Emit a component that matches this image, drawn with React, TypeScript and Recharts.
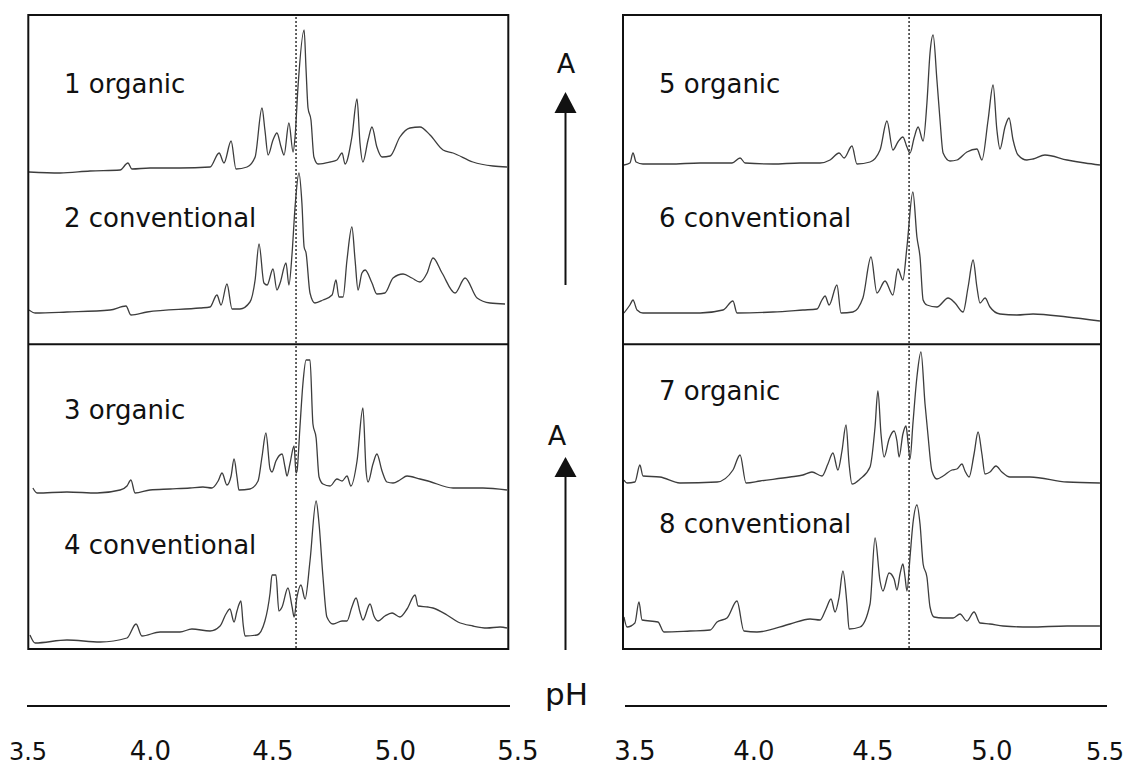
import React from "react";
import { LineChart, Line, XAxis, YAxis, ReferenceLine } from "recharts";

type Pt = [number, number]; // [pH, absorbance in arbitrary units]

// ---- traces ----
const organic1: Pt[] = [
  [3.504, 1.72], [3.631, 1.71], [3.753, 1.73], [3.876, 1.74], [3.908, 1.81], [3.924, 1.75], [3.998, 1.76],
  [4.12, 1.76], [4.243, 1.77], [4.28, 1.91], [4.3, 1.81], [4.329, 2.03], [4.349, 1.75], [4.394, 1.77],
  [4.427, 1.87], [4.455, 2.36], [4.467, 2.14], [4.48, 1.89], [4.5, 2.04], [4.516, 2.11], [4.533, 1.97],
  [4.545, 1.89], [4.565, 2.21], [4.582, 1.92], [4.59, 2.07], [4.602, 2.57], [4.627, 3.14], [4.635, 2.74],
  [4.643, 2.36], [4.655, 2.24], [4.667, 1.87], [4.684, 1.8], [4.733, 1.82], [4.761, 1.84], [4.782, 1.91],
  [4.794, 1.8], [4.822, 2.07], [4.843, 2.45], [4.855, 2.01], [4.867, 1.82], [4.888, 2.04], [4.904, 2.17],
  [4.924, 1.97], [4.945, 1.87], [4.978, 1.88], [5.018, 2.07], [5.059, 2.16], [5.1, 2.17], [5.141, 2.09],
  [5.194, 1.94], [5.235, 1.91], [5.316, 1.82], [5.398, 1.78], [5.455, 1.77],
];

const conventional2: Pt[] = [
  [3.504, 0.34], [3.529, 0.31], [3.659, 0.32], [3.835, 0.34], [3.9, 0.38], [3.92, 0.29], [3.986, 0.32],
  [4.202, 0.36], [4.243, 0.37], [4.271, 0.49], [4.288, 0.39], [4.312, 0.6], [4.333, 0.35], [4.365, 0.35],
  [4.406, 0.42], [4.427, 0.64], [4.443, 1.0], [4.463, 0.61], [4.476, 0.59], [4.5, 0.75], [4.516, 0.54],
  [4.529, 0.61], [4.553, 0.81], [4.565, 0.59], [4.578, 0.91], [4.59, 1.37], [4.606, 1.71], [4.618, 1.41],
  [4.627, 0.97], [4.635, 0.91], [4.651, 0.51], [4.671, 0.41], [4.704, 0.44], [4.741, 0.49], [4.757, 0.64],
  [4.769, 0.47], [4.786, 0.47], [4.802, 0.84], [4.822, 1.17], [4.835, 0.84], [4.847, 0.54], [4.863, 0.71],
  [4.876, 0.74], [4.904, 0.61], [4.924, 0.5], [4.957, 0.51], [4.99, 0.66], [5.031, 0.7], [5.067, 0.66],
  [5.1, 0.62], [5.129, 0.71], [5.153, 0.86], [5.19, 0.71], [5.243, 0.51], [5.284, 0.66], [5.333, 0.46],
  [5.386, 0.41], [5.447, 0.4],
];

const organic3: Pt[] = [
  [3.52, 1.6], [3.537, 1.55], [3.659, 1.56], [3.782, 1.55], [3.876, 1.58], [3.904, 1.62], [3.92, 1.68],
  [3.937, 1.55], [3.998, 1.58], [4.08, 1.59], [4.161, 1.6], [4.214, 1.61], [4.251, 1.6], [4.276, 1.67],
  [4.292, 1.75], [4.312, 1.63], [4.329, 1.72], [4.341, 1.89], [4.353, 1.71], [4.361, 1.58], [4.406, 1.59],
  [4.439, 1.67], [4.455, 1.91], [4.471, 2.15], [4.488, 1.79], [4.496, 1.76], [4.512, 1.87], [4.537, 1.94],
  [4.549, 1.81], [4.557, 1.72], [4.569, 1.84], [4.586, 2.02], [4.594, 1.75], [4.598, 1.77], [4.61, 2.21],
  [4.622, 2.64], [4.635, 2.88], [4.651, 2.88], [4.663, 2.24], [4.676, 2.1], [4.688, 1.71], [4.704, 1.64],
  [4.733, 1.62], [4.761, 1.69], [4.782, 1.67], [4.802, 1.72], [4.818, 1.62], [4.843, 1.87], [4.867, 2.4],
  [4.88, 1.77], [4.888, 1.66], [4.908, 1.84], [4.924, 1.94], [4.945, 1.77], [4.965, 1.66], [4.99, 1.65],
  [5.018, 1.68], [5.047, 1.72], [5.1, 1.69], [5.133, 1.67], [5.235, 1.6], [5.357, 1.6], [5.455, 1.58],
];

const conventional4: Pt[] = [
  [3.508, 0.13], [3.529, 0.05], [3.659, 0.08], [3.794, 0.06], [3.904, 0.1], [3.941, 0.24], [3.965, 0.12],
  [4.039, 0.16], [4.12, 0.16], [4.169, 0.19], [4.243, 0.17], [4.284, 0.22], [4.308, 0.34], [4.324, 0.39],
  [4.341, 0.26], [4.353, 0.37], [4.369, 0.47], [4.378, 0.24], [4.386, 0.12], [4.435, 0.13], [4.467, 0.27],
  [4.488, 0.55], [4.496, 0.73], [4.512, 0.73], [4.524, 0.37], [4.537, 0.41], [4.561, 0.6], [4.578, 0.41],
  [4.586, 0.31], [4.598, 0.51], [4.614, 0.63], [4.631, 0.49], [4.651, 0.87], [4.676, 1.47], [4.688, 1.24],
  [4.704, 0.71], [4.72, 0.31], [4.745, 0.24], [4.782, 0.27], [4.802, 0.27], [4.822, 0.41], [4.839, 0.5],
  [4.855, 0.36], [4.867, 0.28], [4.896, 0.44], [4.912, 0.32], [4.929, 0.27], [4.957, 0.32], [4.986, 0.35],
  [5.018, 0.31], [5.047, 0.39], [5.08, 0.53], [5.092, 0.42], [5.133, 0.41], [5.153, 0.4], [5.21, 0.33],
  [5.255, 0.26], [5.316, 0.22], [5.373, 0.2], [5.427, 0.21], [5.455, 0.2],
];

const organic5: Pt[] = [
  [3.454, 1.79], [3.479, 1.81], [3.492, 1.91], [3.505, 1.82], [3.534, 1.8], [3.647, 1.8], [3.774, 1.81],
  [3.908, 1.81], [3.942, 1.86], [3.963, 1.81], [4.08, 1.8], [4.194, 1.81], [4.278, 1.81], [4.32, 1.84],
  [4.358, 1.91], [4.379, 1.86], [4.412, 1.98], [4.433, 1.8], [4.488, 1.82], [4.53, 1.94], [4.559, 2.23],
  [4.584, 1.94], [4.605, 2.02], [4.626, 2.07], [4.643, 1.97], [4.656, 1.91], [4.673, 2.06], [4.69, 2.17],
  [4.711, 2.03], [4.727, 2.41], [4.74, 2.91], [4.753, 3.09], [4.769, 2.64], [4.782, 2.24], [4.795, 1.91],
  [4.824, 1.83], [4.853, 1.84], [4.895, 1.92], [4.937, 1.95], [4.958, 1.84], [4.984, 2.24], [5.005, 2.59],
  [5.021, 2.14], [5.034, 1.95], [5.055, 2.17], [5.072, 2.26], [5.089, 2.04], [5.11, 1.89], [5.147, 1.84],
  [5.173, 1.85], [5.223, 1.89], [5.316, 1.84], [5.391, 1.81], [5.454, 1.79],
];

const conventional6: Pt[] = [
  [3.454, 0.31], [3.479, 0.39], [3.492, 0.44], [3.509, 0.34], [3.534, 0.31], [3.647, 0.31], [3.774, 0.31],
  [3.87, 0.34], [3.912, 0.43], [3.929, 0.31], [4.08, 0.32], [4.206, 0.34], [4.265, 0.35], [4.286, 0.44],
  [4.299, 0.48], [4.316, 0.39], [4.349, 0.59], [4.366, 0.31], [4.416, 0.32], [4.458, 0.46], [4.492, 0.87],
  [4.517, 0.51], [4.551, 0.63], [4.584, 0.49], [4.605, 0.75], [4.626, 0.64], [4.643, 0.97], [4.668, 1.52],
  [4.685, 1.07], [4.698, 0.87], [4.711, 0.44], [4.727, 0.39], [4.769, 0.37], [4.816, 0.46], [4.845, 0.41],
  [4.879, 0.32], [4.9, 0.57], [4.921, 0.84], [4.937, 0.57], [4.95, 0.41], [4.971, 0.46], [4.992, 0.37],
  [5.034, 0.3], [5.105, 0.29], [5.173, 0.3], [5.316, 0.27], [5.454, 0.23],
];

const organic7: Pt[] = [
  [3.454, 1.68], [3.467, 1.65], [3.5, 1.66], [3.521, 1.83], [3.534, 1.72], [3.605, 1.71], [3.689, 1.65],
  [3.845, 1.66], [3.912, 1.78], [3.942, 1.93], [3.967, 1.65], [4.026, 1.67], [4.152, 1.71], [4.206, 1.73],
  [4.244, 1.76], [4.286, 1.72], [4.311, 1.84], [4.332, 1.95], [4.353, 1.78], [4.37, 1.97], [4.387, 2.23],
  [4.4, 1.84], [4.412, 1.64], [4.446, 1.69], [4.488, 1.81], [4.509, 2.21], [4.521, 2.57], [4.534, 2.14],
  [4.547, 1.91], [4.568, 2.09], [4.589, 2.17], [4.601, 2.07], [4.61, 1.91], [4.626, 2.14], [4.639, 2.22],
  [4.647, 2.07], [4.656, 1.89], [4.668, 2.24], [4.685, 2.71], [4.702, 2.96], [4.719, 2.44], [4.731, 2.14],
  [4.748, 1.77], [4.769, 1.69], [4.795, 1.72], [4.832, 1.78], [4.853, 1.79], [4.874, 1.84], [4.887, 1.77],
  [4.904, 1.71], [4.925, 1.94], [4.942, 2.16], [4.958, 1.94], [4.971, 1.74], [4.992, 1.76], [5.017, 1.82],
  [5.042, 1.76], [5.076, 1.71], [5.16, 1.71], [5.316, 1.66], [5.454, 1.65],
];

const conventional8: Pt[] = [
  [3.454, 0.31], [3.467, 0.21], [3.5, 0.25], [3.517, 0.46], [3.53, 0.28], [3.597, 0.26], [3.622, 0.16],
  [3.732, 0.17], [3.816, 0.18], [3.845, 0.26], [3.887, 0.3], [3.929, 0.47], [3.958, 0.17], [4.013, 0.16],
  [4.152, 0.24], [4.236, 0.29], [4.278, 0.28], [4.303, 0.39], [4.324, 0.49], [4.341, 0.36], [4.358, 0.51],
  [4.374, 0.77], [4.391, 0.44], [4.4, 0.19], [4.446, 0.21], [4.488, 0.44], [4.509, 1.1], [4.53, 0.67],
  [4.542, 0.57], [4.568, 0.75], [4.589, 0.69], [4.601, 0.58], [4.614, 0.74], [4.626, 0.84], [4.635, 0.71],
  [4.643, 0.57], [4.656, 0.91], [4.668, 1.24], [4.685, 1.43], [4.698, 1.24], [4.711, 0.84], [4.727, 0.71],
  [4.74, 0.41], [4.757, 0.31], [4.795, 0.3], [4.837, 0.3], [4.866, 0.34], [4.895, 0.27], [4.925, 0.36],
  [4.95, 0.25], [4.992, 0.24], [5.047, 0.22], [5.16, 0.21], [5.316, 0.22], [5.454, 0.22],
];

const phTicks = [3.5, 4.0, 4.5, 5.0, 5.5];
const leftMarkerPh = 4.594;
const rightMarkerPh = 4.652;
const sampleNames = [
  "1 organic", "2 conventional", "3 organic", "4 conventional",
  "5 organic", "6 conventional", "7 organic", "8 conventional",
];

// ---- layout ----
const FONT = '"DejaVu Sans", Verdana, sans-serif';
const INK = "#111";
const TRACE = "#3d3d3d";
const PX_PER_A = 100;

type Side = {
  x0: number; ph0: number; k: number; // pH ph0 sits at pixel x0, k px per pH unit
  inner: [number, number]; box: [number, number]; axis: [number, number]; row: [number, number];
  labelX: number;
};

const LEFT: Side = { x0: 28, ph0: 3.5, k: 245, inner: [29, 508], box: [28.3, 508.3], axis: [27, 510], row: [0, 560], labelX: 64 };
const RIGHT: Side = { x0: 623, ph0: 3.45, k: 238, inner: [624, 1100], box: [623, 1101], axis: [625, 1107], row: [590, 1125], labelX: 659 };

const BOX_TOP = 15;
const BOX_BOTTOM = 649;
const DIVIDER = 344.3;
const TOP_HALF = { top: 16, height: 327, base: 344 };
const BOTTOM_HALF = { top: 345, height: 303, base: 648 };
const ROW_TOP = 660;
const ROW_H = 105;
const AXIS_Y = 706;

const phAt = (s: Side, px: number) => s.ph0 + (px - s.x0) / s.k;
const rows = (pts: Pt[]) => pts.map(([ph, a]) => ({ ph, a }));

function Half({ side, half, traces, marker }: { side: Side; half: typeof TOP_HALF; traces: Pt[][]; marker: number }) {
  const w = side.inner[1] - side.inner[0];
  const xDomain = [phAt(side, side.inner[0]), phAt(side, side.inner[1])];
  const yDomain = [(half.base - half.top - half.height) / PX_PER_A, (half.base - half.top) / PX_PER_A];
  return (
    <div style={{ position: "absolute", left: side.inner[0], top: half.top, width: w, height: half.height }}>
      <LineChart width={w} height={half.height} margin={{ top: 0, right: 0, bottom: 0, left: 0 }}>
        <XAxis type="number" dataKey="ph" domain={xDomain} allowDataOverflow hide />
        <YAxis type="number" domain={yDomain} allowDataOverflow hide />
        <ReferenceLine x={marker} stroke={INK} strokeWidth={1.3} strokeDasharray="2 2" />
        {traces.map((t, i) => (
          <Line
            key={i}
            data={rows(t)}
            dataKey="a"
            type="monotone"
            stroke={TRACE}
            strokeWidth={1.3}
            dot={false}
            activeDot={false}
            isAnimationActive={false}
          />
        ))}
      </LineChart>
    </div>
  );
}

function PhTick(props: any) {
  const { x, y, payload, maxX, small } = props;
  const isSmall = small.includes(payload.value);
  return (
    <text
      x={Math.min(x, maxX)}
      y={y + 54}
      textAnchor="middle"
      fontFamily={FONT}
      fontSize={isSmall ? 24 : 26}
      fill={INK}
    >
      {payload.value.toFixed(1)}
    </text>
  );
}

function TickRow({ side, small }: { side: Side; small: number[] }) {
  const w = side.row[1] - side.row[0];
  const domain = [phAt(side, side.axis[0]), phAt(side, side.axis[1])];
  return (
    <div style={{ position: "absolute", left: side.row[0], top: ROW_TOP, width: w, height: ROW_H }}>
      <LineChart
        width={w}
        height={ROW_H}
        data={phTicks.map((ph) => ({ ph }))}
        margin={{ top: 0, right: side.row[1] - side.axis[1], bottom: 0, left: side.axis[0] - side.row[0] }}
      >
        <XAxis
          type="number"
          dataKey="ph"
          domain={domain}
          allowDataOverflow
          ticks={phTicks}
          interval={0}
          height={ROW_TOP + ROW_H - AXIS_Y}
          tickSize={0}
          tickMargin={0}
          tickLine={false}
          axisLine={{ stroke: INK, strokeWidth: 2 }}
          tick={<PhTick maxX={w - 20} small={small} />}
        />
      </LineChart>
    </div>
  );
}

function Arrow({ x, tipY, baseY, endY }: { x: number; tipY: number; baseY: number; endY: number }) {
  return (
    <g>
      <polygon points={`${x},${tipY} ${x - 11},${baseY} ${x + 11},${baseY}`} fill={INK} />
      <line x1={x} y1={baseY} x2={x} y2={endY} stroke={INK} strokeWidth={2} />
    </g>
  );
}

export default function App() {
  const labelBaselines = [93, 227, 419, 554, 93, 227, 400, 533];
  return (
    <div style={{ position: "absolute", left: 0, top: 0, width: 1125, height: 765, background: "#fff", overflow: "hidden" }}>
      <Half side={LEFT} half={TOP_HALF} traces={[organic1, conventional2]} marker={leftMarkerPh} />
      <Half side={LEFT} half={BOTTOM_HALF} traces={[organic3, conventional4]} marker={leftMarkerPh} />
      <Half side={RIGHT} half={TOP_HALF} traces={[organic5, conventional6]} marker={rightMarkerPh} />
      <Half side={RIGHT} half={BOTTOM_HALF} traces={[organic7, conventional8]} marker={rightMarkerPh} />
      <TickRow side={LEFT} small={[3.5]} />
      <TickRow side={RIGHT} small={[5.5]} />

      <svg width={1125} height={765} style={{ position: "absolute", left: 0, top: 0, pointerEvents: "none" }}>
        {[LEFT, RIGHT].map((s, i) => (
          <g key={i}>
            <rect x={s.box[0]} y={BOX_TOP} width={s.box[1] - s.box[0]} height={BOX_BOTTOM - BOX_TOP} fill="none" stroke={INK} strokeWidth={2} />
            <line x1={s.box[0]} y1={DIVIDER} x2={s.box[1]} y2={DIVIDER} stroke={INK} strokeWidth={2} />
          </g>
        ))}
        {sampleNames.map((name, i) => (
          <text key={name} x={i < 4 ? LEFT.labelX : RIGHT.labelX} y={labelBaselines[i]} fontFamily={FONT} fontSize={26} fill={INK}>
            {name}
          </text>
        ))}
        <text x={566} y={73} textAnchor="middle" fontFamily={FONT} fontSize={27} fill={INK}>A</text>
        <Arrow x={565.5} tipY={92} baseY={113} endY={285} />
        <text x={557} y={445} textAnchor="middle" fontFamily={FONT} fontSize={27} fill={INK}>A</text>
        <Arrow x={565.5} tipY={457} baseY={477} endY={650} />
        <text x={566.5} y={705} textAnchor="middle" fontFamily={FONT} fontSize={31} fill={INK}>pH</text>
      </svg>
    </div>
  );
}
